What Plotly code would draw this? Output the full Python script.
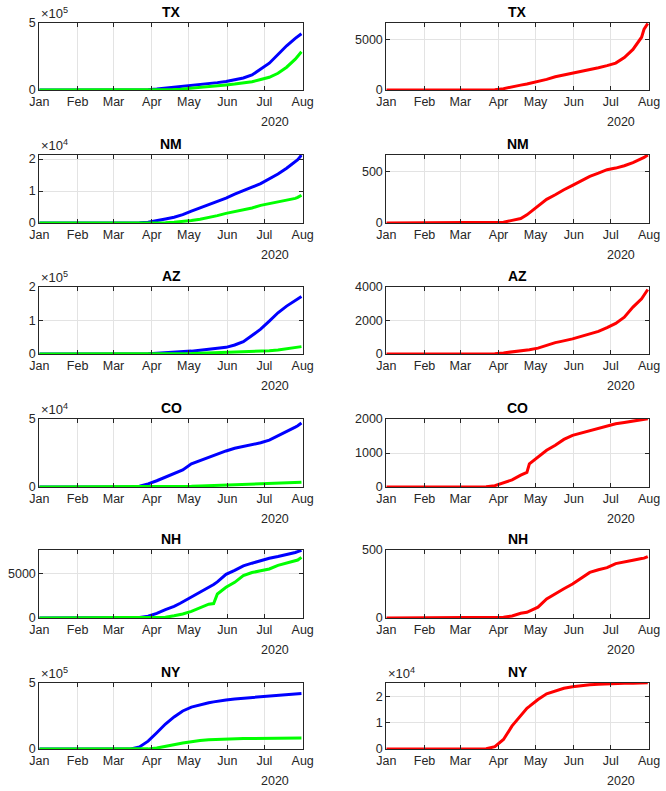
import plotly.graph_objects as go

# ---------------- data ----------------
dates = ["2020-01-01", "2020-03-01", "2020-03-08", "2020-03-15", "2020-03-22", "2020-03-29",
         "2020-04-05", "2020-04-12", "2020-04-19", "2020-04-24", "2020-04-26", "2020-05-03",
         "2020-05-10", "2020-05-17", "2020-05-21", "2020-05-24", "2020-05-31", "2020-06-07",
         "2020-06-14", "2020-06-21", "2020-06-28", "2020-07-05", "2020-07-12", "2020-07-19",
         "2020-07-26", "2020-07-28", "2020-07-31"]

month_ticks = ["2020-01-01", "2020-02-01", "2020-03-01", "2020-04-01", "2020-05-01",
               "2020-06-01", "2020-07-01", "2020-08-01"]
month_labels = ["Jan", "Feb", "Mar", "Apr", "May", "Jun", "Jul", "Aug"]

states = ["TX", "NM", "AZ", "CO", "NH", "NY"]

TX_cases = [0, 0, 10, 70, 600, 2700, 7000, 13500, 19000, 23500, 25000, 32000, 39000, 48000, 52000, 55000,
            64000, 76000, 90000, 112000, 153000, 200000, 265000, 330000, 385000, 400000, 420000]
TX_rec = [0, 0, 0, 0, 0, 0, 500, 1500, 4000, 6500, 8000, 14000, 20000, 26000, 29000, 32000, 38000, 45000,
          52000, 62000, 78000, 95000, 125000, 170000, 230000, 252000, 285000]
TX_deaths = [0, 0, 0, 0, 5, 35, 130, 270, 480, 600, 650, 880, 1050, 1300, 1400, 1450, 1650, 1850, 2000,
             2200, 2400, 2650, 3200, 4000, 5200, 6000, 6550]

NM_cases = [0, 0, 0, 10, 65, 237, 624, 1245, 1800, 2350, 2600, 3700, 4700, 5800, 6400, 6900, 7800, 9000,
            10000, 11200, 12300, 13700, 15300, 17100, 19000, 19800, 21200]
NM_rec = [0, 0, 0, 0, 0, 0, 20, 100, 250, 380, 450, 800, 1200, 1700, 2000, 2300, 3000, 3500, 4000, 4700,
          5500, 6000, 6500, 7100, 7700, 8000, 8700]
NM_deaths = [0, 0, 0, 0, 0, 2, 7, 26, 44, 80, 99, 162, 231, 276, 305, 325, 368, 408, 456, 487, 521, 537,
             560, 591, 628, 641, 665]

AZ_cases = [0, 0, 0, 10, 150, 900, 2270, 3400, 4900, 5900, 6500, 8600, 11100, 13900, 15300, 16000, 19900,
            26900, 36700, 55000, 74000, 98000, 123000, 143000, 160000, 164000, 172000]
AZ_rec = [0, 0, 0, 0, 0, 0, 100, 300, 600, 850, 1000, 1600, 2300, 3000, 3400, 3700, 4400, 5000, 5800,
          6500, 7500, 9500, 12000, 15000, 19000, 20000, 22000]
AZ_deaths = [0, 0, 0, 0, 2, 15, 65, 115, 180, 230, 250, 350, 530, 680, 740, 780, 900, 1050, 1200, 1350,
             1580, 1830, 2200, 2800, 3300, 3500, 3850]

CO_cases = [0, 0, 8, 130, 600, 2300, 4600, 7300, 9700, 11600, 12600, 17000, 19500, 21500, 23000, 24000,
            26500, 28500, 29800, 31000, 32500, 34500, 37500, 40500, 44000, 45000, 47000]
CO_rec = [0, 0, 0, 0, 0, 0, 50, 120, 200, 300, 350, 500, 750, 1000, 1150, 1250, 1500, 1750, 2000, 2200,
          2400, 2600, 2800, 3000, 3200, 3300, 3500]
CO_deaths = [0, 0, 0, 0, 5, 40, 120, 210, 350, 430, 680, 880, 1080, 1230, 1330, 1400, 1520, 1590, 1660,
             1720, 1800, 1860, 1900, 1940, 1980, 1990, 2010]

NH_cases = [0, 0, 0, 10, 70, 200, 520, 940, 1300, 1650, 1800, 2350, 2900, 3450, 3750, 4050, 4900, 5350,
            5850, 6150, 6450, 6700, 6900, 7100, 7350, 7450, 7600]
NH_rec = [0, 0, 0, 0, 0, 0, 10, 80, 250, 400, 450, 750, 1150, 1550, 1620, 2700, 3450, 4000, 4750, 5100,
          5300, 5500, 5900, 6150, 6400, 6500, 6800]
NH_deaths = [0, 0, 0, 0, 0, 2, 5, 15, 35, 42, 50, 80, 140, 180, 200, 215, 250, 295, 335, 355, 370, 400,
             415, 425, 437, 440, 452]

NY_cases = [0, 0, 100, 700, 15500, 59500, 123000, 189000, 243000, 271000, 288000, 317000, 336000, 350000,
            357000, 362000, 372000, 379000, 384000, 388000, 392000, 397000, 402000, 408000, 413000, 415000,
            421000]
NY_rec = [0, 0, 0, 0, 0, 1000, 7000, 18000, 33000, 42000, 46000, 58000, 65000, 70000, 72000, 74000, 76000,
          78000, 79000, 80000, 80500, 81000, 81500, 82000, 82500, 83000, 83500]
NY_deaths = [0, 0, 0, 0, 100, 900, 3600, 8800, 12800, 15500, 16200, 18800, 21000, 22200, 22800, 23100,
             23700, 24100, 24400, 24600, 24800, 24900, 25000, 25050, 25100, 25100, 25150]

cases = [TX_cases, NM_cases, AZ_cases, CO_cases, NH_cases, NY_cases]
recovered = [TX_rec, NM_rec, AZ_rec, CO_rec, NH_rec, NY_rec]
deaths = [TX_deaths, NM_deaths, AZ_deaths, CO_deaths, NH_deaths, NY_deaths]

# y-axis limits and tick labels
left_ymax = [5e5, 21250, 2e5, 5e4, 7630, 5e5]
left_tickvals = [[0, 5e5], [0, 1e4, 2e4], [0, 1e5, 2e5], [0, 5e4], [0, 5000], [0, 5e5]]
left_ticktext = [["0", "5"], ["0", "1", "2"], ["0", "1", "2"], ["0", "5"], ["0", "5000"], ["0", "5"]]
left_exp = ["5", "4", "5", "4", None, "5"]

right_ymax = [6600, 665, 4000, 2000, 500, 25100]
right_tickvals = [[0, 5000], [0, 500], [0, 2000, 4000], [0, 1000, 2000], [0, 500], [0, 1e4, 2e4]]
right_ticktext = [["0", "5000"], ["0", "500"], ["0", "2000", "4000"], ["0", "1000", "2000"],
                  ["0", "500"], ["0", "1", "2"]]
right_exp = [None, None, None, None, None, "4"]

# ---------------- layout ----------------
W, H = 666, 791
col_px = [(39.3, 302.7), (386.3, 649.0)]
row_px = [(23, 90), (155, 223), (287, 354), (419, 487), (550, 618), (683, 749)]
year_x = [275, 621]

FONT = "Liberation Sans, Arial, Helvetica, sans-serif"
AX = "#262626"
GRID = "#e3e3e3"
FS = 12.5

fig = go.Figure()
layout = dict(
    template="none",
    width=W, height=H, margin=dict(l=0, r=0, t=0, b=0, pad=0, autoexpand=False),
    paper_bgcolor="white", plot_bgcolor="white", showlegend=False,
    font=dict(family=FONT, size=FS, color=AX),
)
annotations = []


def fy(py):
    return 1 - py / H


def fx(px):
    return px / W


for r in range(6):
    for c in range(2):
        n = r * 2 + c + 1
        xa = "x" if n == 1 else f"x{n}"
        ya = "y" if n == 1 else f"y{n}"
        if c == 0:
            fig.add_trace(go.Scatter(x=dates, y=cases[r], mode="lines",
                                     line=dict(color="#0000ff", width=3), xaxis=xa, yaxis=ya))
            fig.add_trace(go.Scatter(x=dates, y=recovered[r], mode="lines",
                                     line=dict(color="#00ff00", width=3), xaxis=xa, yaxis=ya))
            ymax, tv, tt, ex = left_ymax[r], left_tickvals[r], left_ticktext[r], left_exp[r]
        else:
            fig.add_trace(go.Scatter(x=dates, y=deaths[r], mode="lines",
                                     line=dict(color="#ff0000", width=3), xaxis=xa, yaxis=ya))
            ymax, tv, tt, ex = right_ymax[r], right_tickvals[r], right_ticktext[r], right_exp[r]

        x0, x1 = col_px[c]
        t, b = row_px[r]
        layout["xaxis" if n == 1 else f"xaxis{n}"] = dict(
            domain=[fx(x0), fx(x1)], anchor=ya, type="date", automargin=False,
            range=["2020-01-01", "2020-08-01"],
            tickmode="array", tickvals=month_ticks, ticktext=month_labels,
            ticks="inside", ticklen=4, tickcolor=AX, tickwidth=1,
            showline=True, linecolor=AX, linewidth=1, mirror="ticks",
            showgrid=True, gridcolor=GRID, gridwidth=1, zeroline=False,
            tickfont=dict(family=FONT, size=FS, color=AX), fixedrange=True,
        )
        layout["yaxis" if n == 1 else f"yaxis{n}"] = dict(
            domain=[fy(b), fy(t)], anchor=xa, range=[0, ymax], automargin=False,
            tickmode="array", tickvals=tv, ticktext=tt,
            ticks="inside", ticklen=4, tickcolor=AX, tickwidth=1,
            showline=True, linecolor=AX, linewidth=1, mirror="ticks",
            showgrid=True, gridcolor=GRID, gridwidth=1, zeroline=False,
            tickfont=dict(family=FONT, size=FS, color=AX), fixedrange=True,
        )
        # title
        annotations.append(dict(text=f"<b>{states[r]}</b>", xref="paper", yref="paper",
                                x=fx((x0 + x1) / 2), y=fy(t), xanchor="center", yanchor="bottom",
                                yshift=1, showarrow=False,
                                font=dict(family=FONT, size=14, color="black")))
        # year label
        annotations.append(dict(text="2020", xref="paper", yref="paper",
                                x=fx(year_x[c]), y=fy(b + 32), xanchor="center", yanchor="middle",
                                showarrow=False, font=dict(family=FONT, size=FS, color=AX)))
        # exponent
        if ex:
            annotations.append(dict(text=f"×10<sup>{ex}</sup>", xref="paper", yref="paper",
                                    x=fx(x0), y=fy(t), xanchor="left", yanchor="bottom",
                                    yshift=0, showarrow=False,
                                    font=dict(family=FONT, size=13, color=AX)))

layout["annotations"] = annotations
fig.update_layout(**layout)
# remove the browser's default 8px body margin so the figure fills the window exactly
fig.write_html("out.html", config={"displayModeBar": False, "staticPlot": True},
               post_script="document.body.style.margin='0px';")
